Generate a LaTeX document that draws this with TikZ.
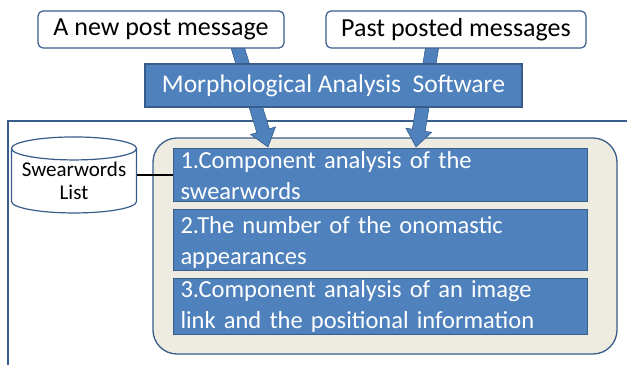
\documentclass[tikz,border=0pt]{standalone}
\usepackage{fontspec}
\setmainfont{Carlito}
\usetikzlibrary{calc,shapes.geometric}
\definecolor{boxblue}{HTML}{4F81BD}
\definecolor{edgeblue}{HTML}{385D8A}
\definecolor{paper}{HTML}{EEECE1}
\tikzset{
  msgbox/.style={draw=edgeblue, line width=1.2pt, fill=white, rounded corners=5pt,
    minimum height=37pt, inner sep=0pt, font=\fontsize{26}{30}\selectfont},
  stepbox/.style={draw=edgeblue, line width=1pt, fill=boxblue, text=white,
    inner xsep=7pt, inner ysep=0pt, align=left, anchor=north west,
    text width=400pt, font=\fontsize{24.5}{30.5}\selectfont},
  bigarrow/.style={fill=boxblue, draw=edgeblue, line width=0.6pt}
}
% block arrow from #1 to #2
\newcommand{\blockarrow}[2]{%
  \coordinate (h) at ($(#2)!17pt!(#1)$);
  \fill[bigarrow] ($(#1)!6.5pt!90:(#2)$) -- ($(h)!6.5pt!90:(#2)$)
    -- ($(h)!13pt!90:(#2)$) -- (#2) -- ($(h)!13pt!-90:(#2)$)
    -- ($(h)!6.5pt!-90:(#2)$) -- ($(#1)!6.5pt!-90:(#2)$) -- cycle;}
\begin{document}
\begin{tikzpicture}[x=1pt,y=-1pt]
  \useasboundingbox (0,0) rectangle (627,365);

  % outer frame, open to the right and below
  \draw[edgeblue, line width=1.3pt] (8,365) -- (8,121) -- (627,121);

  % panel with the three analyses
  \draw[edgeblue, line width=1.3pt, fill=paper, rounded corners=24pt]
    (153,138) rectangle (617,354);
  \foreach \i/\top/\th/\td/\txt in {
      1/148/20/33/{1.Component analysis of the\\swearwords},
      2/209/24/37/{2.The number of the onomastic\\appearances},
      3/278/19/37/{3.Component analysis of an image\\link and the positional information}}{
    \node[stepbox, text height=\th pt, text depth=\td pt] (comp\i) at (173,\top) {\txt};
  }

  % swearwords list
  \node[cylinder, shape border rotate=90, aspect=0.22, draw=edgeblue,
    line width=1.2pt, fill=white, minimum width=125pt, minimum height=76pt,
    align=center, font=\fontsize{21}{23}\selectfont, inner sep=0pt]
    (swear) at (74,181) {Swearwords\\List};
  \draw[line width=1.2pt] (swear.east |- comp1.west) -- (comp1.west);

  % arrows into the panel
  \coordinate (a1) at (236,42);
  \coordinate (t1) at (268,147);
  \coordinate (a2) at (433,42);
  \coordinate (t2) at (416,147);
  \blockarrow{a1}{t1}
  \blockarrow{a2}{t2}

  % software box
  \node[draw=edgeblue, line width=1.2pt, fill=boxblue, text=white,
    minimum width=377pt, minimum height=43pt, inner sep=0pt,
    font=\fontsize{25.5}{29}\selectfont] (morph) at (333.5,85.5)
    {Morphological Analysis\ \ Software};

  % input messages
  \node[msgbox, minimum width=246pt] (newpost) at (161,29.5) {A new post message};
  \node[msgbox, minimum width=260pt] (pastmsg) at (456,29.5) {Past posted messages};
\end{tikzpicture}
\end{document}
